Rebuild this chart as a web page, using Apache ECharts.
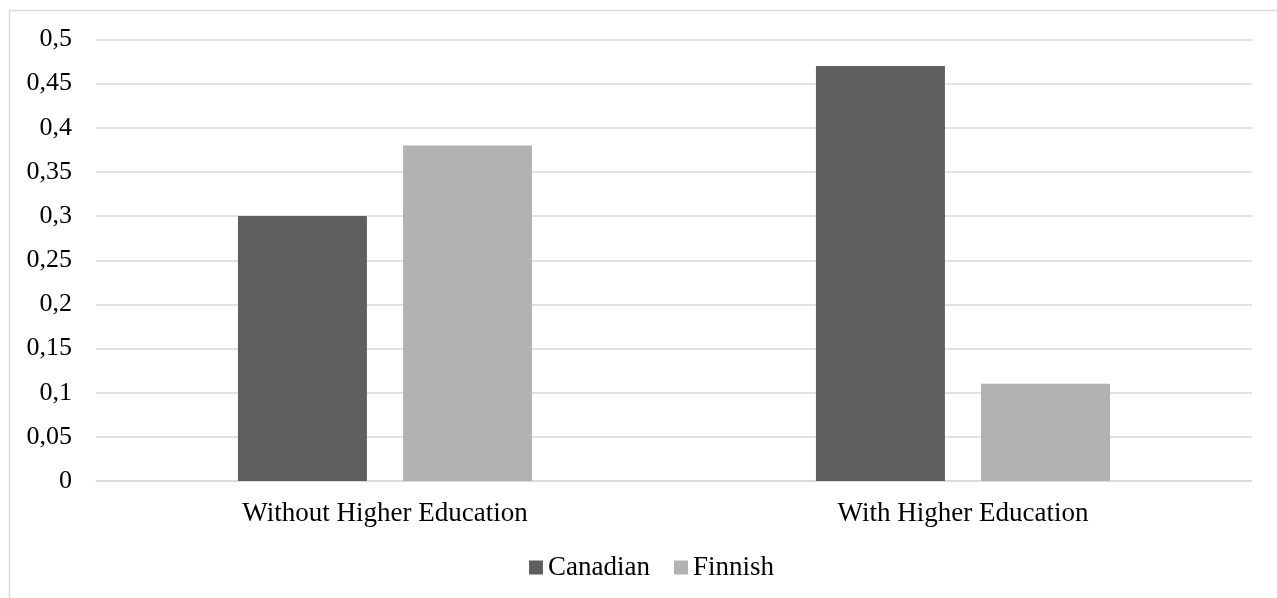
<!DOCTYPE html>
<html>
<head>
<meta charset="utf-8">
<script src="https://cdn.jsdelivr.net/npm/echarts@6/dist/echarts.min.js"></script>
<style>
  html, body { margin: 0; padding: 0; background: #fff; }
  #main { width: 1277px; height: 598px; }
</style>
</head>
<body>
<div id="main"></div>
<script>
var categories = ['Without Higher Education', 'With Higher Education'];
var canadian = [0.30, 0.47];
var finnish = [0.38, 0.11];
var seriesNames = ['Canadian', 'Finnish'];

var myChart = echarts.init(document.getElementById('main'));
var font = '"Liberation Serif", "Times New Roman", serif';

var option = {
    backgroundColor: '#fff',
    textStyle: { fontFamily: font },
    graphic: [{
        type: 'rect',
        shape: { x: 9.5, y: 10.5, width: 1400, height: 700 },
        style: { fill: 'none', stroke: '#d9d9d9', lineWidth: 1.5 },
        silent: true
    }],
    grid: { left: 96, right: 25, top: 39.5, bottom: 117 },
    legend: {
        data: seriesNames,
        top: 549,
        left: 524,
        itemWidth: 14,
        itemHeight: 14,
        itemGap: 24,
        icon: 'rect',
        textStyle: { fontFamily: font, fontSize: 27, color: '#000' }
    },
    xAxis: {
        type: 'category',
        data: categories,
        axisLine: { lineStyle: { color: '#d9d9d9', width: 1.5 } },
        axisTick: { show: false },
        axisLabel: { fontFamily: font, fontSize: 27, color: '#000', margin: 19 }
    },
    yAxis: {
        type: 'value',
        min: 0,
        max: 0.5,
        interval: 0.05,
        axisLine: { show: false },
        axisTick: { show: false },
        splitLine: { lineStyle: { color: '#d9d9d9', width: 1.5 } },
        axisLabel: {
            fontFamily: font,
            fontSize: 26,
            color: '#000',
            margin: 24,
            formatter: function (v) {
                return String(Math.round(v * 100) / 100).replace('.', ',');
            }
        }
    },
    series: [{
        name: seriesNames[0],
        type: 'bar',
        data: canadian,
        barWidth: 129,
        barGap: '28%',
        itemStyle: { color: '#5f5f5f' }
    }, {
        name: seriesNames[1],
        type: 'bar',
        data: finnish,
        barWidth: 129,
        itemStyle: { color: '#b2b2b2' }
    }]
};

myChart.setOption(option);
</script>
</body>
</html>
